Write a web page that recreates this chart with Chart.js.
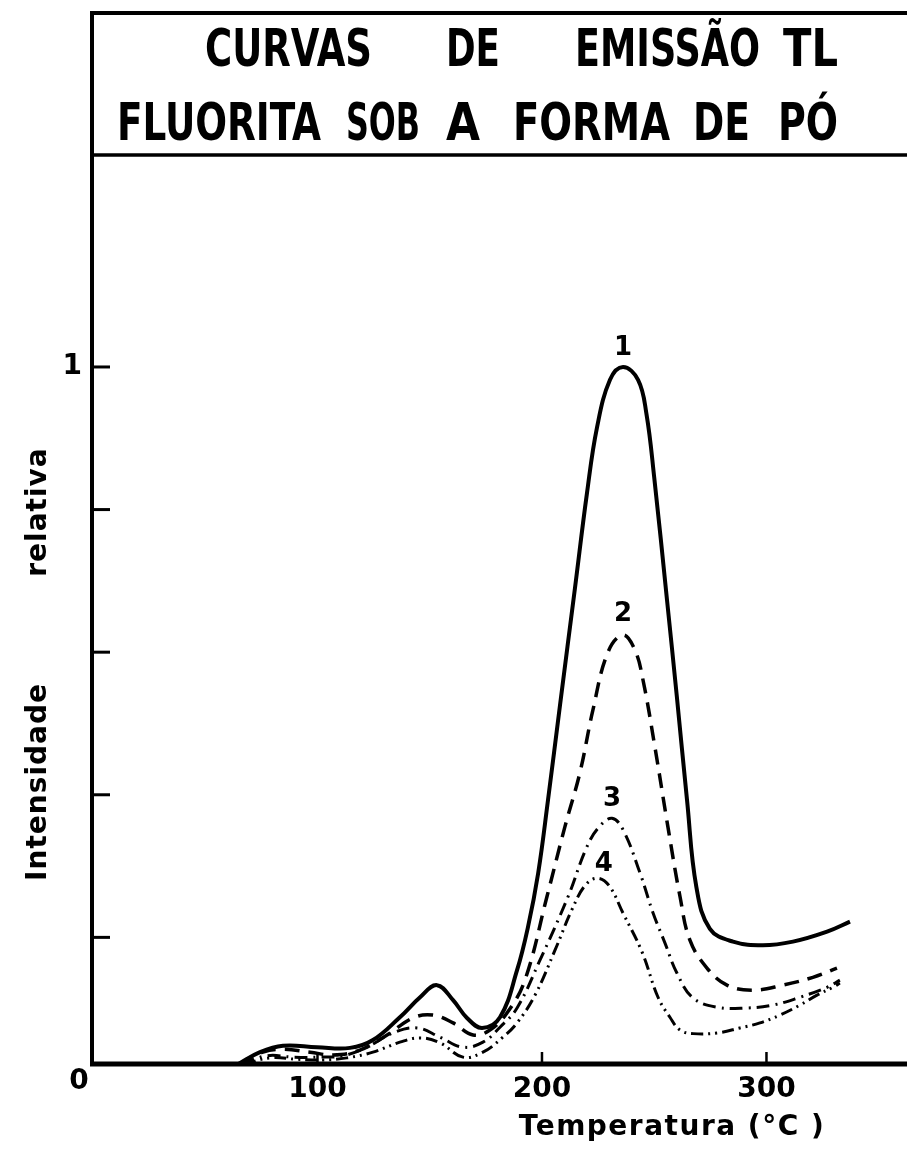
<!DOCTYPE html>
<html>
<head>
<meta charset="utf-8">
<script src="https://cdn.jsdelivr.net/npm/chart.js@4.4.1/dist/chart.umd.min.js"></script>
<style>
  html, body { margin: 0; padding: 0; background: #fff; }
  canvas { display: block; }
</style>
</head>
<body>
<canvas id="tlChart" width="907" height="1162"></canvas>
<script>
// glow curves: temperature (°C) and relative intensity, one pair per curve
const temp1 = [64.6, 74.4, 84.6, 99.8, 114.5, 124.7, 136.7, 145.7, 153.2, 160.4, 166.6, 173.3, 181.3, 188.9, 193.8, 198.3, 202.7, 208.0, 214.7, 220.0, 224.5, 230.3, 236.1, 242.8, 246.5, 250.0, 255.7, 260.1, 264.6, 268.8, 274.8, 285.1, 298.4, 311.8, 327.0, 337.2];
const int1 = [0.022, 0.039, 0.048, 0.046, 0.045, 0.056, 0.088, 0.116, 0.133, 0.112, 0.087, 0.073, 0.088, 0.154, 0.215, 0.290, 0.393, 0.525, 0.690, 0.822, 0.915, 0.982, 1.0, 0.982, 0.935, 0.845, 0.673, 0.537, 0.393, 0.270, 0.212, 0.194, 0.189, 0.194, 0.208, 0.222];

const temp2 = [65.5, 75.7, 84.6, 96.7, 106.9, 118.9, 131.0, 142.5, 151.4, 160.4, 169.3, 176.8, 184.4, 192.4, 202.2, 210.2, 216.9, 222.7, 229.4, 236.1, 241.4, 245.0, 250.3, 256.1, 261.5, 265.9, 273.5, 282.4, 294.0, 307.3, 320.7, 331.4];
const int2 = [0.022, 0.039, 0.043, 0.039, 0.035, 0.042, 0.063, 0.087, 0.091, 0.080, 0.063, 0.070, 0.094, 0.140, 0.257, 0.355, 0.431, 0.519, 0.600, 0.624, 0.603, 0.561, 0.467, 0.355, 0.257, 0.196, 0.157, 0.133, 0.126, 0.133, 0.144, 0.157];

const temp3 = [66.4, 77.5, 89.1, 101.1, 111.4, 122.0, 133.6, 144.3, 154.6, 164.8, 173.7, 181.3, 188.9, 199.1, 211.6, 220.0, 225.5, 231.2, 236.1, 243.7, 249.4, 254.8, 260.1, 267.3, 278.0, 291.3, 302.9, 314.9, 327.0, 332.7];
const int3 = [0.022, 0.034, 0.032, 0.032, 0.034, 0.046, 0.066, 0.073, 0.060, 0.046, 0.053, 0.074, 0.101, 0.168, 0.257, 0.327, 0.355, 0.367, 0.351, 0.290, 0.235, 0.192, 0.150, 0.115, 0.102, 0.101, 0.105, 0.116, 0.130, 0.140];

const temp4 = [67.3, 78.8, 90.9, 102.4, 113.1, 124.7, 136.7, 145.7, 154.6, 164.8, 173.7, 182.6, 188.9, 196.9, 205.8, 213.5, 219.5, 224.9, 230.0, 236.1, 244.5, 251.7, 257.0, 261.5, 267.3, 278.0, 288.2, 297.1, 306.0, 314.9, 322.5, 329.6, 332.7];
const int4 = [0.022, 0.031, 0.029, 0.028, 0.031, 0.039, 0.053, 0.059, 0.052, 0.032, 0.039, 0.060, 0.080, 0.119, 0.182, 0.240, 0.274, 0.283, 0.272, 0.234, 0.180, 0.116, 0.088, 0.070, 0.065, 0.066, 0.073, 0.080, 0.091, 0.105, 0.119, 0.130, 0.136];

const curveNames = ['1', '2', '3', '4'];
const xTicks = [100, 200, 300];
const yTicks = [0.2, 0.4, 0.6, 0.8, 1];
const yLabelTicks = [1];
const titleLine1 = ['CURVAS', 'DE', 'EMISSÃO', 'TL'];
const titleLine2 = ['FLUORITA', 'SOB', 'A', 'FORMA', 'DE', 'PÓ'];
const xTitle = 'Temperatura (°C )';
const yTitle = ['Intensidade', 'relativa'];

const temps = [temp1, temp2, temp3, temp4];
const ints = [int1, int2, int3, int4];
const dashes = [[], [15, 9], [13, 6, 2, 6], [12, 5, 2, 5, 2, 5]];
const widths = [4, 3.5, 3, 3];

const labelFont = "bold 28px 'DejaVu Sans', sans-serif";

// stretch or squeeze one word so it spans left..right
function fitWord(ctx, text, left, right, baseline) {
    const w = ctx.measureText(text).width;
    ctx.save();
    ctx.translate(left, baseline);
    ctx.scale((right - left) / w, 1);
    ctx.fillText(text, 0, 0);
    ctx.restore();
}

const framePlugin = {
    id: 'frame',
    afterDraw(chart) {
        const { ctx, chartArea: a, scales: { x, y } } = chart;
        ctx.save();
        ctx.strokeStyle = '#000';
        ctx.fillStyle = '#000';

        // box around the title, left axis and bottom axis
        ctx.lineWidth = 4;
        ctx.beginPath();
        ctx.moveTo(chart.width, 13);
        ctx.lineTo(a.left - 1, 13);
        ctx.lineTo(a.left - 1, a.bottom);
        ctx.stroke();
        ctx.lineWidth = 5;
        ctx.beginPath();
        ctx.moveTo(a.left - 3, a.bottom);
        ctx.lineTo(chart.width, a.bottom);
        ctx.stroke();
        ctx.lineWidth = 3.5;
        ctx.beginPath();
        ctx.moveTo(a.left - 1, a.top);
        ctx.lineTo(chart.width, a.top);
        ctx.stroke();

        // inward tick marks
        ctx.lineWidth = 3;
        yTicks.forEach(v => {
            const py = y.getPixelForValue(v);
            ctx.beginPath();
            ctx.moveTo(a.left, py);
            ctx.lineTo(a.left + 17, py);
            ctx.stroke();
        });
        ctx.lineWidth = 2.5;
        xTicks.forEach(v => {
            const px = x.getPixelForValue(v);
            ctx.beginPath();
            ctx.moveTo(px, a.bottom);
            ctx.lineTo(px, a.bottom - 12);
            ctx.stroke();
        });

        // origin label
        ctx.font = labelFont;
        ctx.textAlign = 'center';
        ctx.textBaseline = 'middle';
        ctx.fillText('0', 79, 1082);

        // curve numbers above each peak
        ctx.font = "bold 26px 'DejaVu Sans', sans-serif";
        const nudges = [[0, 19], [0, 21], [0, 19], [6, 14]];
        ints.forEach((vals, i) => {
            const k = vals.indexOf(Math.max(...vals));
            const px = x.getPixelForValue(temps[i][k]) + nudges[i][0];
            const py = y.getPixelForValue(vals[k]) - nudges[i][1];
            ctx.fillText(curveNames[i], px, py);
        });

        // axis titles
        ctx.font = labelFont;
        ctx.letterSpacing = '1.5px';
        ctx.fillText(xTitle, 672, 1128);
        ctx.save();
        ctx.translate(39, 0);
        ctx.rotate(-Math.PI / 2);
        ctx.letterSpacing = '1px';
        ctx.fillText(yTitle[0], -782, 0);
        ctx.fillText(yTitle[1], -512, 0);
        ctx.restore();
        ctx.letterSpacing = '0px';

        // title lettering
        ctx.font = "bold 52px 'Liberation Sans Narrow', 'DejaVu Sans Condensed', 'Liberation Sans', sans-serif";
        ctx.textAlign = 'left';
        ctx.textBaseline = 'alphabetic';
        const spans1 = [[205, 372], [446, 500], [575, 760], [783, 838]];
        const spans2 = [[117, 321], [346, 420], [446, 480], [513, 670], [693, 750], [778, 838]];
        titleLine1.forEach((w, i) => fitWord(ctx, w, spans1[i][0], spans1[i][1], 66));
        titleLine2.forEach((w, i) => fitWord(ctx, w, spans2[i][0], spans2[i][1], 140));

        ctx.restore();
    }
};

const datasets = temps.map((t, i) => ({
    label: curveNames[i],
    data: t.map((tv, j) => ({ x: tv, y: ints[i][j] })),
    borderColor: '#000',
    borderWidth: widths[i],
    borderDash: dashes[i],
    pointRadius: 0,
    fill: false,
    tension: 0.4
}));

new Chart(document.getElementById('tlChart'), {
    type: 'line',
    data: { datasets },
    options: {
        responsive: false,
        animation: false,
        layout: { padding: { top: 155, left: 0, right: 0, bottom: 0 } },
        plugins: {
            legend: { display: false },
            tooltip: { enabled: false }
        },
        scales: {
            x: {
                type: 'linear',
                min: 0,
                max: 362.6,
                grid: { display: false, drawTicks: false },
                border: { display: false },
                afterBuildTicks: s => { s.ticks = xTicks.map(v => ({ value: v })); },
                afterFit: s => { s.height = 98; },
                ticks: {
                    color: '#000',
                    padding: 9,
                    maxRotation: 0,
                    autoSkip: false,
                    font: { family: 'DejaVu Sans', weight: 'bold', size: 28 }
                }
            },
            y: {
                type: 'linear',
                min: 0.0224,
                max: 1.2973,
                grid: { display: false, drawTicks: false },
                border: { display: false },
                afterBuildTicks: s => { s.ticks = yLabelTicks.map(v => ({ value: v })); },
                afterFit: s => { s.width = 93; },
                ticks: {
                    color: '#000',
                    padding: 11,
                    font: { family: 'DejaVu Sans', weight: 'bold', size: 28 }
                }
            }
        }
    },
    plugins: [framePlugin]
});
</script>
</body>
</html>
